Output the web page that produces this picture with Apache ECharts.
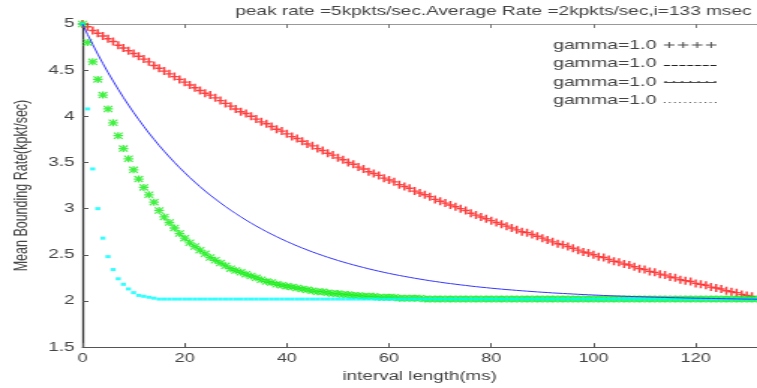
<!DOCTYPE html>
<html>
<head>
<meta charset="utf-8">
<script src="https://cdn.jsdelivr.net/npm/echarts@6/dist/echarts.min.js"></script>
<style>
  html, body { margin: 0; padding: 0; background: #fff; overflow: hidden; }
  /* the source figure is a stretched matlab plot, so draw narrow and stretch it */
  #chart { width: 505px; height: 388px; transform: scaleX(1.49901); transform-origin: 0 0; }
</style>
</head>
<body>
<div id="chart"></div>
<script>
// mean bounding rate (kpkt/sec) at interval length 0,1,2,... ms
const rateRed = [
  5.00, 4.97, 4.93, 4.90, 4.87, 4.84, 4.81, 4.77, 4.74, 4.71,
  4.68, 4.65, 4.62, 4.59, 4.55, 4.52, 4.49, 4.46, 4.43, 4.40,
  4.37, 4.34, 4.31, 4.28, 4.25, 4.23, 4.20, 4.17, 4.14, 4.11,
  4.08, 4.05, 4.03, 4.00, 3.97, 3.94, 3.92, 3.89, 3.86, 3.84,
  3.81, 3.78, 3.76, 3.73, 3.70, 3.68, 3.65, 3.63, 3.60, 3.58,
  3.55, 3.53, 3.50, 3.48, 3.45, 3.43, 3.40, 3.38, 3.36, 3.33,
  3.31, 3.29, 3.26, 3.24, 3.22, 3.19, 3.17, 3.15, 3.13, 3.10,
  3.08, 3.06, 3.04, 3.02, 3.00, 2.98, 2.95, 2.93, 2.91, 2.89,
  2.87, 2.85, 2.83, 2.81, 2.79, 2.77, 2.75, 2.74, 2.72, 2.70,
  2.68, 2.66, 2.64, 2.62, 2.61, 2.59, 2.57, 2.55, 2.53, 2.52,
  2.50, 2.48, 2.47, 2.45, 2.43, 2.42, 2.40, 2.39, 2.37, 2.35,
  2.34, 2.32, 2.31, 2.29, 2.28, 2.26, 2.25, 2.23, 2.22, 2.21,
  2.19, 2.18, 2.17, 2.15, 2.14, 2.13, 2.11, 2.10, 2.09, 2.07,
  2.06, 2.05
];
const rateBlue = [
  5.000, 4.887, 4.778, 4.673, 4.572, 4.475, 4.382, 4.292, 4.205, 4.122,
  4.042, 3.965, 3.891, 3.819, 3.751, 3.684, 3.621, 3.560, 3.501, 3.444,
  3.390, 3.337, 3.287, 3.238, 3.191, 3.146, 3.104, 3.062, 3.022, 2.983,
  2.946, 2.911, 2.876, 2.843, 2.811, 2.781, 2.751, 2.723, 2.696, 2.669,
  2.644, 2.620, 2.596, 2.574, 2.552, 2.531, 2.511, 2.492, 2.473, 2.456,
  2.438, 2.422, 2.406, 2.391, 2.376, 2.362, 2.348, 2.335, 2.322, 2.310,
  2.298, 2.287, 2.276, 2.266, 2.256, 2.246, 2.237, 2.228, 2.219, 2.211,
  2.203, 2.195, 2.188, 2.181, 2.174, 2.168, 2.161, 2.155, 2.149, 2.144,
  2.138, 2.133, 2.128, 2.123, 2.119, 2.114, 2.110, 2.106, 2.102, 2.098,
  2.094, 2.091, 2.087, 2.084, 2.081, 2.078, 2.075, 2.072, 2.069, 2.067,
  2.064, 2.062, 2.059, 2.057, 2.055, 2.053, 2.051, 2.049, 2.047, 2.046,
  2.044, 2.042, 2.041, 2.039, 2.038, 2.036, 2.035, 2.034, 2.032, 2.031,
  2.030, 2.029, 2.028, 2.027, 2.026, 2.025, 2.024, 2.023, 2.022, 2.021,
  2.020, 2.020, 2.019
];
const rateGreen = [
  5.00, 4.80, 4.59, 4.40, 4.23, 4.08, 3.93, 3.79, 3.65, 3.54,
  3.42, 3.32, 3.23, 3.15, 3.07, 2.98, 2.91, 2.85, 2.79, 2.73,
  2.68, 2.63, 2.59, 2.55, 2.51, 2.47, 2.44, 2.41, 2.38, 2.35,
  2.33, 2.31, 2.29, 2.27, 2.25, 2.23, 2.21, 2.20, 2.18, 2.17,
  2.16, 2.15, 2.14, 2.13, 2.12, 2.11, 2.10, 2.10, 2.09, 2.08,
  2.08, 2.07, 2.07, 2.06, 2.06, 2.05, 2.05, 2.05, 2.04, 2.04,
  2.04, 2.04, 2.03, 2.03, 2.03, 2.03, 2.03, 2.02, 2.02, 2.02,
  2.02, 2.02, 2.02, 2.02, 2.02, 2.02, 2.02, 2.02, 2.02, 2.02,
  2.02, 2.02, 2.02, 2.02, 2.02, 2.02, 2.02, 2.02, 2.02, 2.02,
  2.02, 2.02, 2.02, 2.02, 2.02, 2.02, 2.02, 2.02, 2.02, 2.02,
  2.02, 2.02, 2.02, 2.02, 2.02, 2.02, 2.02, 2.02, 2.02, 2.02,
  2.02, 2.02, 2.02, 2.02, 2.02, 2.02, 2.02, 2.02, 2.02, 2.02,
  2.02, 2.02, 2.02, 2.02, 2.02, 2.02, 2.02, 2.02, 2.02, 2.02,
  2.02, 2.02, 2.02
];
const rateCyan = [
  5.00, 4.08, 3.43, 3.00, 2.68, 2.48, 2.34, 2.24, 2.18, 2.13,
  2.09, 2.06, 2.05, 2.04, 2.03, 2.02, 2.02, 2.02, 2.02, 2.02,
  2.02, 2.02, 2.02, 2.02, 2.02, 2.02, 2.02, 2.02, 2.02, 2.02,
  2.02, 2.02, 2.02, 2.02, 2.02, 2.02, 2.02, 2.02, 2.02, 2.02,
  2.02, 2.02, 2.02, 2.02, 2.02, 2.02, 2.02, 2.02, 2.02, 2.02,
  2.02, 2.02, 2.02, 2.02, 2.02, 2.02, 2.02, 2.02, 2.02, 2.02,
  2.02, 2.02, 2.02, 2.02, 2.02, 2.02, 2.02, 2.02, 2.02, 2.02,
  2.02, 2.02, 2.02, 2.02, 2.02, 2.02, 2.02, 2.02, 2.02, 2.02,
  2.02, 2.02, 2.02, 2.02, 2.02, 2.02, 2.02, 2.02, 2.02, 2.02,
  2.02, 2.02, 2.02, 2.02, 2.02, 2.02, 2.02, 2.02, 2.02, 2.02,
  2.02, 2.02, 2.02, 2.02, 2.02, 2.02, 2.02, 2.02, 2.02, 2.02,
  2.02, 2.02, 2.02, 2.02, 2.02, 2.02, 2.02, 2.02, 2.02, 2.02,
  2.02, 2.02, 2.02, 2.02, 2.02, 2.02, 2.02, 2.02, 2.02, 2.02,
  2.02, 2.02, 2.02
];
const seriesNames = ["gamma=1.0 (+)", "gamma=1.0 (-)", "gamma=1.0 (*)", "gamma=1.0 (.)"];
const legendLabel = "gamma=1.0";
const yTicks = { min: 1.5, max: 5, step: 0.5 };
const xTicks = { min: 0, max: 132, step: 20 };

const FONT = "'Liberation Sans', Arial, sans-serif";
const GREY = "#444";

// filled rectangle as a path fragment (clockwise so pieces don't cancel out)
function rect(x, y, w, h) {
  return `M${x},${y}L${x + w},${y}L${x + w},${y + h}L${x},${y + h}Z`;
}

const plusSymbol = "path://" + rect(1.75, 0, 1.5, 8) + rect(0, 3.3, 5, 1.4);
const starSymbol = "path://" + rect(2.6, 0, 1.3, 7) + rect(0, 2.85, 6.5, 1.3) +
  "M0,0.8L0.8,0L6.5,6.2L5.7,7Z" + "M5.7,0L6.5,0.8L0.8,7L0,6.2Z";

// legend samples, drawn in a 35 px wide box
function legendPlus() {
  let p = "";
  [3.5, 12.83, 22.17, 31.5].forEach((c) => { p += rect(c - 3.5, 2.5, 7, 1) + rect(c - 0.5, 0, 1, 6); });
  return "path://" + p;
}
function legendDash() {
  let p = "M0,0Z";
  for (let i = 0; i < 7; i++) p += rect(i * 5.17, 5, 4, 1);
  return "path://" + p;
}
function legendStar() {
  let p = rect(0, 1.2, 35, 1);
  for (let i = 0; i < 7; i++) p += rect(i * 5.5 + 0.5, 0, 1.3, 1.2);
  return "path://" + p;
}
function legendDot() {
  let p = "M0,0Z";
  for (let i = 0; i < 11; i++) p += rect(i * 3.4, 5, 1, 1);
  return "path://" + p;
}

function legendRow(name, icon, top, h) {
  return {
    left: 368.9,
    top: top,
    padding: 0,
    align: "right",
    itemWidth: 35,
    itemHeight: h,
    selectedMode: false,
    formatter: legendLabel,
    textStyle: { fontFamily: FONT, fontSize: 13, color: GREY },
    data: [{ name: name, icon: icon, itemStyle: { color: "#222", borderWidth: 0 } }]
  };
}

const toPoints = (arr) => arr.map((v, i) => [i, v]);

const chart = echarts.init(document.getElementById("chart"), null, { renderer: "canvas" });
chart.setOption({
  animation: false,
  backgroundColor: "#fff",
  title: {
    text: "peak rate =5kpkts/sec.Average Rate =2kpkts/sec,i=133 msec",
    left: 157,
    top: 5,
    padding: 0,
    textStyle: { fontFamily: FONT, fontSize: 12.7, fontWeight: "normal", color: GREY }
  },
  legend: [
    legendRow(seriesNames[0], legendPlus(), 38.5, 6),
    legendRow(seriesNames[1], legendDash(), 56.5, 6),
    legendRow(seriesNames[2], legendStar(), 75.5, 2.2),
    legendRow(seriesNames[3], legendDot(), 93.5, 6)
  ],
  grid: { left: 50.7, top: 24, width: 455, height: 326 },
  xAxis: [
    {
      type: "value",
      position: "bottom",
      min: xTicks.min,
      max: xTicks.max,
      interval: xTicks.step,
      name: "interval length(ms)",
      nameLocation: "middle",
      nameGap: 22,
      nameTextStyle: { fontFamily: FONT, fontSize: 12.5, color: GREY },
      axisLine: { lineStyle: { color: "#555", width: 1 } },
      axisTick: { inside: true, length: 4, lineStyle: { color: "#555" } },
      axisLabel: { fontFamily: FONT, fontSize: 12, color: GREY, margin: 6, showMaxLabel: false },
      splitLine: { show: false }
    },
    {
      type: "value",
      position: "top",
      min: xTicks.min,
      max: xTicks.max,
      interval: xTicks.step,
      axisLine: { lineStyle: { color: "#999", width: 1 } },
      axisTick: { inside: true, length: 4, lineStyle: { color: "#777" } },
      axisLabel: { show: false },
      splitLine: { show: false }
    }
  ],
  yAxis: {
    type: "value",
    min: yTicks.min,
    max: yTicks.max,
    interval: yTicks.step,
    name: "Mean Bounding Rate(kpkt/sec)",
    nameLocation: "middle",
    nameGap: 34,
    nameTextStyle: { fontFamily: FONT, fontSize: 12.5, color: GREY },
    axisLine: { show: true, lineStyle: { color: "#333", width: 1.3 } },
    axisTick: { show: true, inside: true, length: 4, lineStyle: { color: "#555" } },
    axisLabel: { fontFamily: FONT, fontSize: 12.5, color: GREY, margin: 5.3 },
    splitLine: { show: false }
  },
  series: [
    {
      name: seriesNames[0],
      type: "scatter",
      data: toPoints(rateRed),
      symbol: plusSymbol,
      symbolSize: [5, 8],
      itemStyle: { color: "#ff1010" }
    },
    {
      name: seriesNames[1],
      type: "line",
      data: toPoints(rateBlue),
      showSymbol: false,
      symbol: "none",
      lineStyle: { color: "#3535ff", width: 1 },
      itemStyle: { color: "#3535ff" }
    },
    {
      name: seriesNames[2],
      type: "scatter",
      data: toPoints(rateGreen),
      symbol: starSymbol,
      symbolSize: [6.5, 7],
      itemStyle: { color: "#10ee10" }
    },
    {
      name: seriesNames[3],
      type: "scatter",
      data: toPoints(rateCyan),
      symbol: "rect",
      symbolSize: [3.4, 3],
      itemStyle: { color: "#00ffff" }
    }
  ]
});
</script>
</body>
</html>
